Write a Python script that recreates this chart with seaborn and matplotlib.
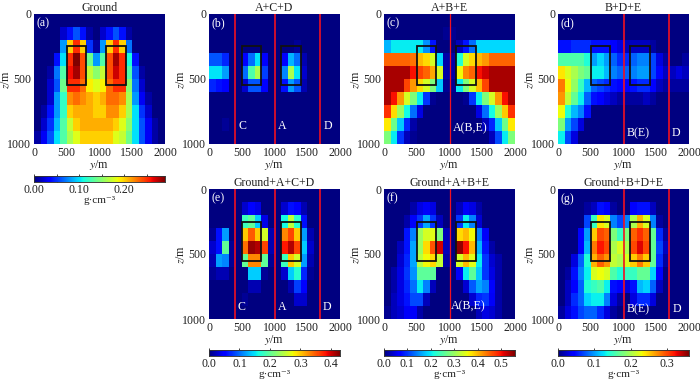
import numpy as np
import seaborn as sns
import matplotlib.pyplot as plt
from matplotlib.patches import Rectangle

# density values, in 0.01 g/cm3, rows = z, columns = y
ground = [
    [0,0,0,0,0,0,0,0,0,0,0,0,0,0,0,0,0,0,0,0],
    [0,0,0,0,2,4,6,4,1,0,2,4,6,4,1,0,0,0,0,0],
    [0,0,0,0,8,20,25,20,5,1,8,20,25,20,7,0,0,0,0,0],
    [0,0,0,4,10,25,29,24,14,8,13,24,28,25,11,4,0,0,0,0],
    [0,0,1,7,13,26,28,24,17,15,17,24,27,25,13,6,1,0,0,0],
    [0,0,2,6,14,25,25,23,19,18,19,23,25,25,15,7,2,0,0,0],
    [0,0,2,8,12,22,23,22,21,20,21,23,23,22,16,8,3,1,0,0],
    [0,1,4,8,12,20,21,21,21,20,20,22,22,20,16,10,5,2,0,0],
    [0,2,5,9,13,17,20,21,21,21,21,21,20,18,15,10,6,3,1,0],
    [1,3,6,10,13,16,18,20,20,20,20,20,18,17,14,10,6,3,1,0],
]
acd = [
    [0,0,0,0,0,0,0,0,0,0,0,0,0,0,0,0,0,0,0,0],
    [0,0,0,0,0,0,0,0,0,0,0,0,0,0,0,0,0,0,0,0],
    [0,0,0,0,0,0,0,0,0,0,0,0,0,1,0,0,0,0,0,0],
    [9,9,7,0,0,5,10,15,5,0,0,5,13,10,2,0,0,0,0,0],
    [15,15,12,0,0,10,19,24,8,0,0,11,24,15,3,0,0,0,0,0],
    [7,6,5,0,0,3,9,9,5,0,0,6,12,9,2,0,0,0,0,0],
    [0,0,0,0,0,0,0,0,0,0,0,0,0,0,0,0,0,0,0,0],
    [0,0,0,0,0,0,0,0,0,0,0,0,0,0,0,0,0,0,0,0],
    [0,0,1,0,0,0,0,0,0,0,0,0,0,0,0,0,0,0,0,0],
    [0,0,0,0,0,0,0,0,0,0,0,0,0,0,0,0,0,0,0,0],
]
abe = [
    [0,0,0,0,0,0,0,0,0,0,0,0,0,0,0,0,0,0,0,0],
    [0,0,0,0,0,0,0,0,0,1,1,0,0,0,0,0,0,0,0,0],
    [17,20,20,20,20,20,15,8,0,0,0,3,8,13,19,19,19,19,19,19],
    [45,45,45,45,44,40,38,34,19,2,2,22,34,38,40,42,45,45,45,45],
    [54,54,54,54,50,47,45,41,34,2,2,36,43,45,50,52,54,54,54,54],
    [54,54,54,47,42,38,34,28,18,1,1,20,28,34,40,47,54,54,54,54],
    [54,50,42,34,28,20,10,1,0,0,0,0,1,10,20,28,34,42,50,54],
    [48,38,30,21,13,5,0,0,0,0,0,0,0,0,5,13,21,30,39,48],
    [37,27,18,9,2,0,0,0,0,0,0,0,0,0,0,3,9,18,27,37],
    [28,20,10,3,1,0,0,0,0,0,0,0,0,0,0,0,3,11,20,28],
]
bde = [
    [0,0,0,0,0,0,0,0,0,0,0,0,0,0,0,0,0,0,0,0],
    [0,0,0,0,0,0,0,0,0,0,0,0,0,0,0,0,0,0,0,0],
    [5,5,6,6,6,5,5,5,4,3,2,2,2,2,1,0,0,0,0,0],
    [16,16,16,16,14,10,12,10,8,6,6,8,9,9,7,3,1,0,0,1],
    [24,22,20,18,17,13,13,11,9,8,8,9,10,10,7,4,2,2,3,2],
    [28,23,19,15,11,8,7,6,5,4,4,5,6,6,4,2,1,1,1,1],
    [27,21,17,13,8,5,4,3,2,1,1,1,1,2,1,0,0,0,0,0],
    [23,14,11,9,5,0,0,0,0,0,0,0,0,0,0,0,0,0,0,0],
    [18,10,7,3,0,0,0,0,0,0,0,0,0,0,0,0,0,0,0,0],
    [13,7,3,0,0,0,0,0,0,0,0,0,0,0,0,0,0,0,0,0],
]
g_acd = [
    [0,0,0,0,0,0,0,0,0,0,0,0,0,0,0,0,0,0,0,0],
    [0,0,0,0,0,3,5,4,0,0,0,3,6,5,2,0,0,0,0,0],
    [0,0,0,0,0,18,20,14,4,0,0,16,25,17,6,0,0,0,0,0],
    [1,6,12,0,0,30,35,30,26,2,0,33,36,30,12,2,0,0,0,0],
    [3,6,20,1,0,34,42,41,36,2,0,38,41,36,14,3,0,0,0,0],
    [2,12,11,1,0,20,33,33,20,1,0,18,30,26,12,2,0,0,0,0],
    [1,2,2,0,0,0,14,14,1,0,0,3,14,17,7,1,0,0,0,0],
    [0,0,0,0,0,0,2,2,0,0,0,0,2,8,5,0,0,0,0,0],
    [0,0,0,0,0,1,0,0,0,0,0,0,0,3,3,0,0,0,0,0],
    [0,0,0,0,0,0,0,0,0,0,0,0,0,0,0,0,0,0,0,0],
]
g_abe = [
    [0,0,0,0,0,0,0,0,0,0,0,0,0,0,0,0,0,0,0,0],
    [0,0,0,0,2,5,6,5,0,0,0,3,6,5,2,0,0,0,0,0],
    [0,0,0,2,6,10,16,10,3,0,0,10,20,14,4,0,0,0,0,0],
    [0,0,0,8,14,30,34,35,28,3,0,38,40,36,14,6,0,0,0,0],
    [0,0,3,8,16,30,38,46,52,3,0,55,50,40,17,8,2,0,0,0],
    [0,0,4,9,16,32,36,38,33,2,0,34,40,35,20,10,4,2,0,0],
    [0,2,5,10,15,26,26,26,0,0,0,6,20,26,18,10,5,2,0,0],
    [0,2,5,9,13,20,14,3,0,0,0,0,4,12,16,14,7,2,0,0],
    [0,3,5,8,11,11,3,0,0,0,0,0,0,4,9,10,6,2,0,0],
    [1,3,4,6,6,2,0,0,0,0,0,0,0,0,3,5,4,2,0,0],
]
g_bde = [
    [0,0,0,0,0,0,0,0,0,0,0,0,0,0,0,0,0,0,0,0],
    [0,0,0,0,1,2,5,4,1,0,0,4,5,5,2,0,0,0,0,0],
    [0,0,0,0,7,15,24,22,9,7,9,20,26,22,9,1,0,0,0,0],
    [0,0,0,4,10,25,30,29,18,15,18,29,31,29,17,6,1,0,0,0],
    [0,0,0,4,11,28,32,30,20,22,20,30,33,30,17,7,2,0,0,0],
    [0,0,3,8,14,26,29,27,21,20,22,25,28,25,17,6,1,0,0,0],
    [0,1,5,9,13,22,23,22,16,14,15,15,17,17,12,4,0,0,0,0],
    [0,2,4,8,14,15,16,13,5,4,3,5,11,12,8,2,0,0,0,0],
    [0,2,6,8,12,13,13,9,3,1,0,3,6,6,3,0,0,0,0,0],
    [1,3,5,7,8,8,6,3,1,0,0,0,0,0,0,0,0,0,0,0],
]

titles = ['Ground', 'A+C+D', 'A+B+E', 'B+D+E', 'Ground+A+C+D', 'Ground+A+B+E', 'Ground+B+D+E']
tags = ['(a)', '(b)', '(c)', '(d)', '(e)', '(f)', '(g)']
fields = [ground, acd, abe, bde, g_acd, g_abe, g_bde]
vmaxs = [0.29, 0.43, 0.56, 0.36, 0.43, 0.56, 0.36]
y_ticks = [0, 500, 1000, 1500, 2000]
z_ticks = [0, 500, 1000]
box_y = [500, 1100]

# left, top of each panel in pixels
W, H = 700, 382
SIDE = 131
corners = [(34, 14), (209, 14), (384, 14), (558, 14), (209, 189), (384, 189), (558, 189)]
# x positions of the red lines and their labels
lines = {1: [400, 1000, 1700], 2: [1000], 3: [1000, 1700], 4: [400, 1000, 1700], 5: [1000], 6: [1000, 1700]}
labels = {
    1: [('C', 515, 860), ('A', 1115, 860), ('D', 1820, 860)],
    2: [('A(B,E)', 1310, 880)],
    3: [('B(E)', 1220, 915), ('D', 1800, 915)],
    4: [('C', 490, 910), ('A', 1115, 910), ('D', 1800, 910)],
    5: [('A(B,E)', 1282, 905)],
    6: [('B(E)', 1220, 923), ('D', 1810, 923)],
}
# colorbars: panel, left, top, tick values, labelled ticks, label format
bars = [
    (0, 34, 176, [0, 0.05, 0.10, 0.15, 0.20, 0.25], [0, 0.10, 0.20], '%.2f'),
    (4, 209, 350, [0, 0.1, 0.2, 0.3, 0.4], [0, 0.1, 0.2, 0.3, 0.4], '%.1f'),
    (5, 384, 350, [0, 0.1, 0.2, 0.3, 0.4, 0.5], [0, 0.1, 0.2, 0.3, 0.4, 0.5], '%.1f'),
    (6, 558, 350, [0, 0.1, 0.2, 0.3], [0, 0.1, 0.2, 0.3], '%.1f'),
]

sns.set_theme(style='white')
plt.rcParams['font.family'] = ['Liberation Serif', 'DejaVu Serif']
plt.rcParams['mathtext.fontset'] = 'stix'
plt.rcParams['font.size'] = 8.5


def px_axes(left, top, w, h):
    return fig.add_axes([left / W, 1 - (top + h) / H, w / W, h / H])


fig = plt.figure(figsize=(7, 3.82), dpi=100)

bar_axes = {b[0]: px_axes(b[1], b[2], SIDE, 6) for b in bars}

for i, field in enumerate(fields):
    ax = px_axes(corners[i][0], corners[i][1], SIDE, 130)
    data = np.array(field) / 100
    has_bar = i in bar_axes
    sns.heatmap(data, ax=ax, cmap='jet', vmin=0, vmax=vmaxs[i], cbar=has_bar,
                cbar_ax=bar_axes.get(i), cbar_kws={'orientation': 'horizontal'},
                xticklabels=False, yticklabels=False)
    ax.set_xticks([t / 100 for t in y_ticks])
    ax.set_xticklabels([str(t) for t in y_ticks], rotation=0, fontsize=8.6)
    ax.set_yticks([t / 100 for t in z_ticks])
    ax.set_yticklabels([str(t) for t in z_ticks], rotation=0, fontsize=8.6)
    ax.tick_params(direction='in', color='white', length=2, width=0.6, pad=2,
                   bottom=True, left=True, labelcolor='#222222')
    ax.set_xlabel('$y$/m', fontsize=8.6, color='#222222')
    ax.set_ylabel('$z$/m', fontsize=8.6, color='#222222')
    ax.xaxis.set_label_coords(0.5, -0.105)
    ax.yaxis.set_label_coords(-0.165, 0.5)
    ax.set_title(titles[i], fontsize=8.6, pad=2.5, color='#222222')
    ax.text(0.45, 0.75, tags[i], color='white', fontsize=8.6, ha='left', va='center')

    for x0 in box_y:
        ax.add_patch(Rectangle((x0 / 100, 2.5), 3, 3, fill=False, ec='#111111', lw=1.3))
    for xl in lines.get(i, []):
        ax.axvline(xl / 100, color='#f01020', lw=1.2 if i not in (2, 5) else 0.9)
    for txt, xt, zt in labels.get(i, []):
        ax.text(xt / 100, zt / 100, txt, color='white', fontsize=8.6, ha='center', va='center')

for idx, left, top, ticks, shown, fmt in bars:
    cax = bar_axes[idx]
    cax.set_xticks(ticks)
    cax.set_xticklabels([fmt % t if t in shown else '' for t in ticks], fontsize=8.6, color='#222222')
    cax.tick_params(direction='in', color='#222222', length=6, width=0.6, pad=1.5, bottom=True)
    for s in cax.spines.values():
        s.set_visible(True)
        s.set_linewidth(0.5)
        s.set_color('#333333')
    cax.set_xlabel('g·cm⁻³', fontsize=8, labelpad=0, color='#222222')

fig.savefig('out.png', dpi=100)
